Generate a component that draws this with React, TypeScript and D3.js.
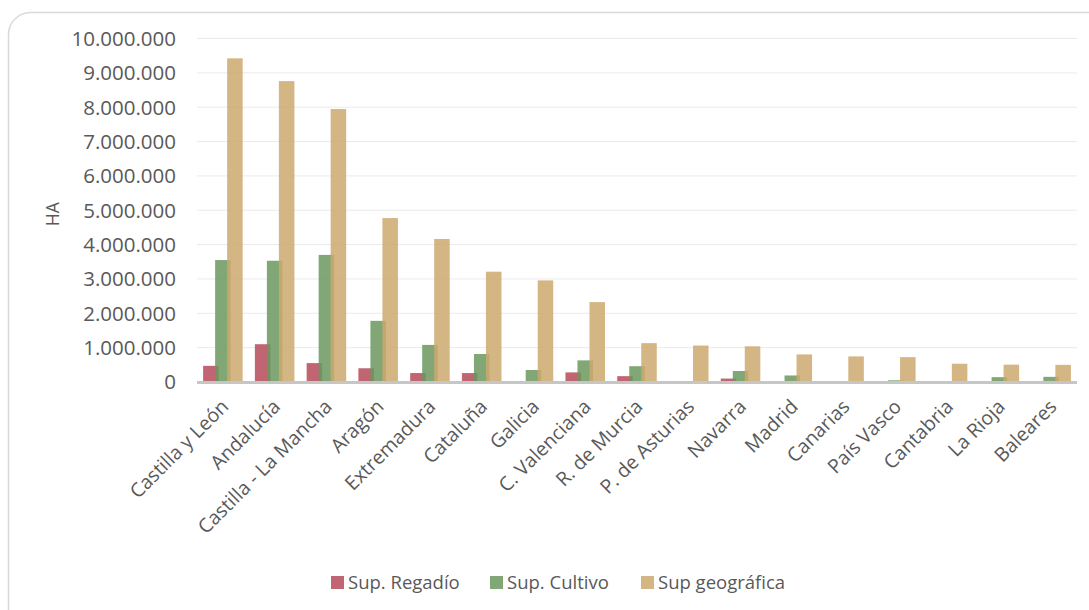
import React from "react";
import * as d3 from "d3";

const categories = [
  "Castilla y León", "Andalucía", "Castilla - La Mancha", "Aragón", "Extremadura",
  "Cataluña", "Galicia", "C. Valenciana", "R. de Murcia", "P. de Asturias",
  "Navarra", "Madrid", "Canarias", "País Vasco", "Cantabria", "La Rioja", "Baleares",
];
const regadio = [470000, 1100000, 550000, 400000, 260000, 260000, 0, 280000, 170000, 5000, 100000, 20000, 5000, 10000, 2000, 15000, 15000];
const cultivo = [3550000, 3530000, 3700000, 1780000, 1080000, 815000, 350000, 630000, 460000, 10000, 320000, 190000, 10000, 50000, 8000, 140000, 150000];
const geografica = [9422600, 8759900, 7946100, 4772000, 4163400, 3210800, 2957500, 2325500, 1131300, 1060400, 1039100, 802800, 744700, 723400, 532100, 504500, 499200];
const yTicks = [0, 1000000, 2000000, 3000000, 4000000, 5000000, 6000000, 7000000, 8000000, 9000000, 10000000];
const seriesNames = ["Sup. Regadío", "Sup. Cultivo", "Sup geográfica"];
const seriesColors = ["#b54a58", "#6a985d", "#cda86f"];

const fmt = (v: number) => (v === 0 ? "0" : d3.format(",")(v).replace(/,/g, "."));

export default function App() {
  const W = 1089, H = 610;
  const x = d3.scaleBand<string>().domain(categories).range([197, 1077]).paddingInner(0).paddingOuter(0);
  const y = d3.scaleLinear().domain([0, 10000000]).range([382, 38.5]);
  const step = x.step();
  const bw = step * 0.3;
  const off = step * 0.232;
  const series = [regadio, cultivo, geografica];
  const font = "'Open Sans', sans-serif";
  const legendX = [331, 490, 641];

  return (
    <svg width={W} height={H} style={{ position: "absolute", left: 0, top: 0, display: "block" }} fontFamily={font}>
      <rect x={8.5} y={12.5} width={W + 20} height={H + 20} rx={22} ry={22} fill="#fff" stroke="#d9d9d9" strokeWidth={1.5} />
      {yTicks.map((t) => (
        <g key={t}>
          {t > 0 && <line x1={197} x2={1077} y1={y(t)} y2={y(t)} stroke="#ebebeb" strokeWidth={1} />}
          <text x={176} y={y(t)} dy="0.36em" textAnchor="end" fontSize={20.5} fill="#595959">{fmt(t)}</text>
        </g>
      ))}
      <text transform={`translate(59,${y(5000000) + 4}) rotate(-90)`} textAnchor="middle" fontSize={17.5} fill="#595959">HA</text>
      {series.map((vals, si) => (
        <g key={si}>
          {vals.map((v, i) => {
            const cx = (x(categories[i]) as number) + step / 2 + (si - 1) * off;
            return (
              <rect key={i} x={cx - bw / 2} y={y(v)} width={bw} height={y(0) - y(v)}
                fill={seriesColors[si]} fillOpacity={0.85} />
            );
          })}
        </g>
      ))}
      <line x1={197} x2={1077} y1={y(0) + 0.5} y2={y(0) + 0.5} stroke="#c6c6c6" strokeWidth={3} />
      {categories.map((c) => {
        const cx = (x(c) as number) + step / 2;
        return (
          <text key={c} transform={`translate(${cx + 2},${y(0) + 21}) rotate(-45)`} textAnchor="end" dy="0.35em" fontSize={19.5} fill="#595959">{c}</text>
        );
      })}
      {seriesNames.map((n, i) => (
        <g key={n}>
          <rect x={legendX[i]} y={576} width={13} height={13} fill={seriesColors[i]} fillOpacity={0.85} />
          <text x={legendX[i] + 17} y={582.5} dy="0.35em" fontSize={18.5} fill="#595959">{n}</text>
        </g>
      ))}
    </svg>
  );
}
